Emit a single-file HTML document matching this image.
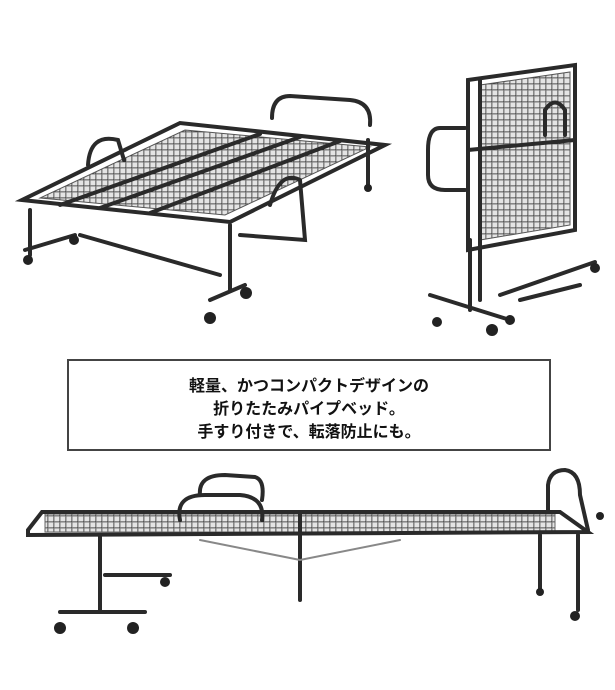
<!DOCTYPE html>
<html><head><meta charset="utf-8"><style>
html,body{margin:0;padding:0;background:#fff;width:615px;height:690px;overflow:hidden}
.box{position:absolute;left:67px;top:359px;width:484px;height:92px;border:2px solid #444;box-sizing:border-box;
font-family:"Liberation Sans","Noto Sans CJK JP",sans-serif;font-size:16px;font-weight:bold;line-height:23px;text-align:center;color:#111;padding-top:14px}
svg{position:absolute;left:0;top:0}
</style></head><body>
<svg width="615" height="690" viewBox="0 0 615 690" fill="none" stroke="#2a2a2a" stroke-linecap="round">
<defs><pattern id="g" width="6" height="6" patternUnits="userSpaceOnUse"><rect width="6" height="6" fill="#e4e4e4"/><path d="M0,0H6M0,0V6" stroke="#777" stroke-width="1"/></pattern></defs>
<!-- top-left bed -->
<g stroke-width="1" stroke="#555"><polygon points="40,198 225,215 370,147 185,130" fill="url(#g)"/></g>
<g stroke-width="4">
<polygon points="22,200 230,222 385,145 180,123"/>
<line x1="60" y1="205" x2="260" y2="134"/><line x1="100" y1="208" x2="300" y2="137"/><line x1="150" y1="213" x2="340" y2="141"/>
<path d="M88,165 Q90,133 118,140 L124,160"/>
<path d="M272,118 Q272,96 290,96 L350,100 Q372,102 370,125"/>
<path d="M270,205 Q280,170 300,180 L305,240 L240,235"/>
<line x1="30" y1="210" x2="30" y2="255"/><line x1="230" y1="225" x2="230" y2="290"/>
<line x1="80" y1="235" x2="220" y2="275"/><line x1="210" y1="300" x2="245" y2="285"/>
<line x1="25" y1="250" x2="75" y2="235"/><line x1="368" y1="140" x2="368" y2="185"/>
</g>
<g fill="#222" stroke="none"><circle cx="28" cy="260" r="5"/><circle cx="74" cy="240" r="5"/><circle cx="210" cy="318" r="6"/><circle cx="246" cy="293" r="6"/><circle cx="368" cy="188" r="4"/></g>
<!-- top-right folded bed -->
<g stroke-width="1" stroke="#555"><polygon points="480,85 570,72 570,225 480,240" fill="url(#g)"/></g>
<g stroke-width="4">
<polygon points="468,80 575,65 575,230 468,250"/>
<line x1="480" y1="80" x2="480" y2="300"/><line x1="468" y1="150" x2="575" y2="140"/>
<path d="M465,128 L440,128 Q428,128 428,150 L428,175 Q428,190 445,190 L465,190"/>
<path d="M545,135 L545,110 Q555,95 565,110 L565,135"/>
<line x1="430" y1="295" x2="510" y2="320"/><line x1="500" y1="295" x2="595" y2="262"/>
<line x1="470" y1="240" x2="470" y2="310"/><line x1="520" y1="300" x2="580" y2="285"/>
</g>
<g fill="#222" stroke="none"><circle cx="437" cy="322" r="5"/><circle cx="492" cy="330" r="6"/><circle cx="510" cy="320" r="5"/><circle cx="595" cy="268" r="5"/></g>
<!-- bottom bed side view -->
<g stroke-width="1" stroke="#666"><rect x="45" y="514" width="510" height="18" fill="url(#g)"/></g>
<g stroke-width="4">
<path d="M28,530 L42,512 L560,512 L588,532 L28,535 Z"/>
<path d="M180,520 Q175,495 205,495 L240,495 Q265,497 262,520"/>
<path d="M200,495 Q198,475 225,475 L255,477 Q265,480 262,500"/>
<path d="M548,512 L548,485 Q550,470 565,470 Q580,472 580,495 L588,530"/>
<line x1="100" y1="535" x2="100" y2="610"/><line x1="60" y1="612" x2="145" y2="612"/>
<line x1="105" y1="575" x2="170" y2="575"/><line x1="300" y1="512" x2="300" y2="600"/>
<line x1="540" y1="535" x2="540" y2="590"/><line x1="578" y1="535" x2="578" y2="610"/>
</g>
<path d="M200,540 L300,560 L400,540" stroke="#888" stroke-width="2"/>
<g fill="#222" stroke="none"><circle cx="60" cy="628" r="6"/><circle cx="133" cy="628" r="6"/><circle cx="165" cy="582" r="5"/><circle cx="575" cy="616" r="5"/><circle cx="540" cy="592" r="4"/><circle cx="600" cy="516" r="4"/></g>
</svg>
<div class="box">軽量、かつコンパクトデザインの<br>折りたたみパイプベッド。<br>手すり付きで、転落防止にも。</div>
</body></html>
